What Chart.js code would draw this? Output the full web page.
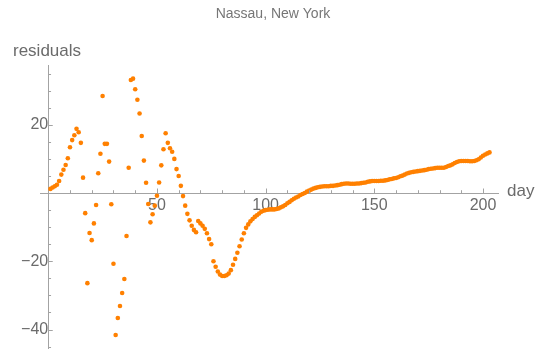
<!DOCTYPE html>
<html>
<head>
<meta charset="utf-8">
<script src="https://cdn.jsdelivr.net/npm/chart.js@4"></script>
<style>
  html, body { margin: 0; padding: 0; background: #fff; }
  #wrap { width: 546px; height: 354px; }
</style>
</head>
<body>
<div id="wrap"><canvas id="residualChart" width="546" height="354"></canvas></div>
<script>
// data, one value per day starting at day 1
var firstDay = 1;
var residuals = [
    1.2, 1.6, 2.0, 2.4, 3.5, 5.4, 6.8, 8.2, 10.2, 13.4, 15.5, 16.9, 18.8, 17.8, 14.7, 4.5,
    -5.9, -26.4, -11.7, -13.8, -8.9, -3.5, 5.8, 11.5, 28.4, 14.4, 14.4, 9.2, -3.3, -20.7,
    -41.6, -36.6, -33.1, -29.3, -25.2, -12.6, 7.4, 33.1, 33.5, 30.4, 27.3, 23.3, 16.7, 9.5, 3.0,
    -3.2, -8.6, -6.2, -3.7, -0.8, 3.1, 8.1, 12.8, 17.5, 14.7, 13.1, 12.1, 10.0, 7.0, 5.0, 2.1,
    -0.9, -3.7, -6.1, -8.0, -9.6, -10.8, -11.5, -8.2, -8.9, -9.6, -10.5, -11.8, -13.5, -15.0,
    -20.0, -21.6, -23.0, -23.9, -24.3, -24.3, -24.1, -23.6, -22.6, -21.0, -19.3, -17.5, -15.6, -13.6, -11.8,
    -10.2, -9.2, -8.3, -7.6, -7.0, -6.5, -6.0, -5.5, -5.2, -5.0,
    -4.9, -4.8, -4.8, -4.8, -4.7, -4.5, -4.2, -3.9, -3.5, -3.0,
    -2.6, -2.1, -1.7, -1.3, -1.0, -0.6, -0.3, 0.0, 0.4, 0.7,
    1.0, 1.3, 1.5, 1.7, 1.8, 1.9, 2.0, 2.0, 2.0, 2.1,
    2.1, 2.2, 2.3, 2.4, 2.6, 2.7, 2.8, 2.8, 2.7, 2.7,
    2.7, 2.8, 2.8, 2.9, 3.0, 3.1, 3.3, 3.4, 3.5, 3.5,
    3.5, 3.5, 3.6, 3.6, 3.7, 3.8, 4.0, 4.1, 4.3, 4.4,
    4.6, 4.9, 5.1, 5.4, 5.7, 5.9, 6.1, 6.2, 6.3, 6.4,
    6.5, 6.6, 6.7, 6.8, 7.0, 7.1, 7.2, 7.3, 7.4, 7.4,
    7.4, 7.4, 7.6, 7.9, 8.1, 8.4, 8.8, 9.1, 9.3, 9.4,
    9.4, 9.4, 9.4, 9.3, 9.3, 9.4, 9.6, 9.9, 10.4, 10.9,
    11.3, 11.6, 11.9
];
var xMajorTicks = [50, 100, 150, 200];
var yMajorTicks = [-40, -20, 20];
var xMinorStep = 10;
var yMinorStep = 5;

var chartTitle = "Nassau, New York";
var yLabel = "residuals";
var xLabel = "day";

var axisColor = "#a3a3a3";
var textColor = "#6b6b6b";
var dotColor = "#ff8000";
var fontName = "'Liberation Sans', Arial, sans-serif";

var points = residuals.map(function (v, i) {
    return { x: firstDay + i, y: v };
});

function minus(v) {
    return v < 0 ? "\u2212" + Math.abs(v) : String(v);
}

// axes sit inside the plot, so their end labels must not shrink the area
function noEdgePadding(scale) {
    scale.paddingTop = 0;
    scale.paddingBottom = 0;
    scale.paddingLeft = 0;
    scale.paddingRight = 0;
}

// Mathematica-style ticks pointing into the plot, plus the free text labels
var decorPlugin = {
    id: "decor",
    afterDraw: function (chart) {
        var ctx = chart.ctx;
        var xs = chart.scales.x;
        var ys = chart.scales.y;
        var y0 = ys.getPixelForValue(0);
        var x0 = xs.getPixelForValue(0);
        ctx.save();
        ctx.strokeStyle = axisColor;
        ctx.lineWidth = 1;
        ctx.beginPath();
        for (var v = Math.ceil(xs.min / xMinorStep) * xMinorStep; v <= xs.max; v += xMinorStep) {
            if (v === 0) continue;
            var len = xMajorTicks.indexOf(v) >= 0 ? 4.5 : 2.8;
            var px = Math.round(xs.getPixelForValue(v)) + 0.5;
            ctx.moveTo(px, y0);
            ctx.lineTo(px, y0 - len);
        }
        for (var w = Math.ceil(ys.min / yMinorStep) * yMinorStep; w <= ys.max; w += yMinorStep) {
            if (w === 0) continue;
            var len2 = yMajorTicks.indexOf(w) >= 0 ? 4.5 : 2.8;
            var py = Math.round(ys.getPixelForValue(w)) + 0.5;
            ctx.moveTo(x0, py);
            ctx.lineTo(x0 + len2, py);
        }
        ctx.stroke();

        ctx.fillStyle = "#767676";
        ctx.font = "14px " + fontName;
        ctx.textAlign = "center";
        ctx.textBaseline = "middle";
        ctx.fillText(chartTitle, chart.width / 2, 14);

        ctx.fillStyle = textColor;
        ctx.font = "17px " + fontName;
        ctx.textAlign = "left";
        ctx.fillText(yLabel, 13, 51);
        ctx.fillText(xLabel, 507, y0 - 2);
        ctx.restore();
    }
};

var ctx = document.getElementById("residualChart").getContext("2d");
var residualChart = new Chart(ctx, {
    type: "scatter",
    data: {
        datasets: [{
            label: yLabel,
            data: points,
            backgroundColor: dotColor,
            borderColor: dotColor,
            borderWidth: 0,
            pointRadius: 2.3,
            pointHoverRadius: 2.3
        }]
    },
    options: {
        responsive: false,
        animation: false,
        layout: { padding: { top: 65, left: 40, right: 48, bottom: 6 } },
        plugins: {
            legend: { display: false },
            title: { display: false },
            tooltip: { enabled: false }
        },
        scales: {
            x: {
                type: "linear",
                position: { y: 0 },
                min: -3.8,
                max: 206.9,
                afterFit: noEdgePadding,
                border: { display: true, color: axisColor, width: 1 },
                grid: { drawOnChartArea: false, drawTicks: false },
                ticks: {
                    stepSize: 50,
                    includeBounds: false,
                    autoSkip: false,
                    maxRotation: 0,
                    padding: 3,
                    color: textColor,
                    font: { family: fontName, size: 16 },
                    callback: function (v) {
                        return xMajorTicks.indexOf(v) >= 0 ? minus(v) : "";
                    }
                }
            },
            y: {
                type: "linear",
                position: { x: 0 },
                min: -45.4,
                max: 37.5,
                afterFit: noEdgePadding,
                border: { display: true, color: axisColor, width: 1 },
                grid: { drawOnChartArea: false, drawTicks: false },
                ticks: {
                    stepSize: 20,
                    includeBounds: false,
                    autoSkip: false,
                    padding: 4,
                    color: textColor,
                    font: { family: fontName, size: 16 },
                    callback: function (v) {
                        return yMajorTicks.indexOf(v) >= 0 ? minus(v) : "";
                    }
                }
            }
        }
    },
    plugins: [decorPlugin]
});
</script>
</body>
</html>
